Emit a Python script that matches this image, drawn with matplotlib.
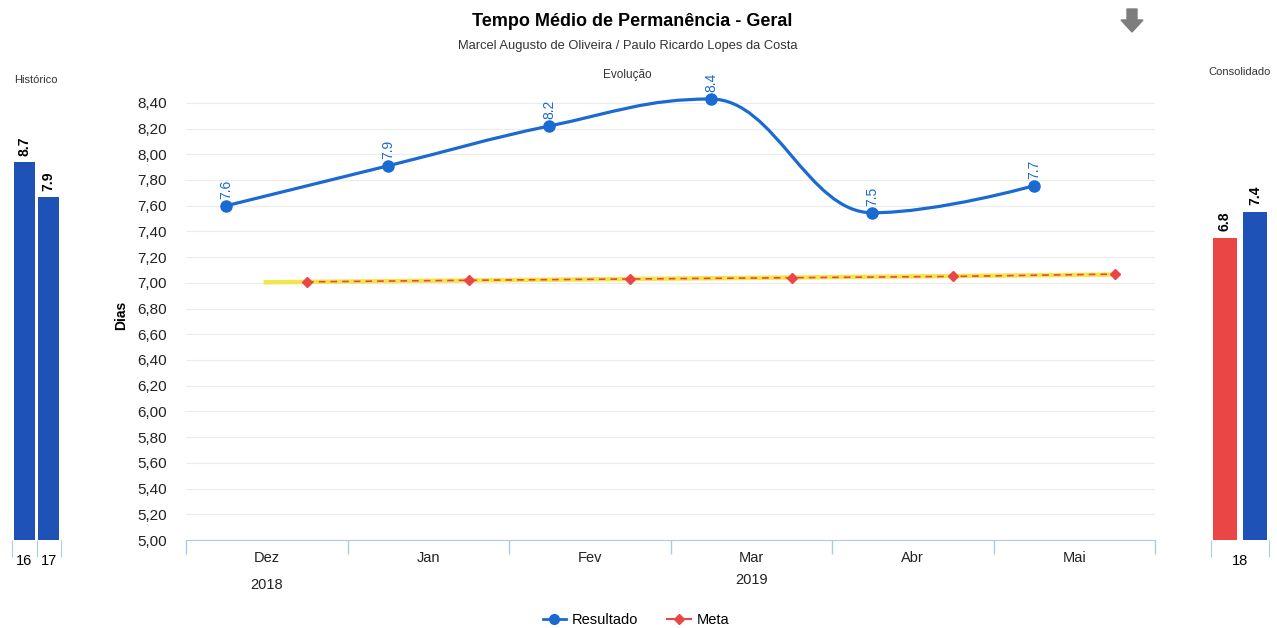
import numpy as np
import matplotlib
matplotlib.use("Agg")
import matplotlib.pyplot as plt
import matplotlib.transforms as mtrans
from matplotlib.path import Path
from matplotlib.patches import PathPatch, Polygon
from matplotlib.lines import Line2D

plt.rcParams['font.family'] = ['Liberation Sans', 'DejaVu Sans']

# Dataset
months = ["Dez", "Jan", "Fev", "Mar", "Abr", "Mai"]
resultado = [7.6, 7.91, 8.22, 8.43, 7.545, 7.755]
resultado_lbl = ["7.6", "7.9", "8.2", "8.4", "7.5", "7.7"]
meta = [7.008, 7.02, 7.03, 7.04, 7.05, 7.068]

hist_years = ["16", "17"]
hist_vals = [8.7, 7.9]

cons_year = "18"
cons_meta = 6.8
cons_res = 7.4

BLUE_LINE = "#1a6ad2"
BLUE_BAR = "#1f52b6"
RED = "#ea4646"
AXIS_C = "#a9cde6"


def spline_path(xs, ys):
    # highcharts-like spline
    sm, den = 1.5, 2.5
    n = len(xs)
    left = [None] * n
    right = [None] * n
    for i in range(n):
        if i == 0 or i == n - 1:
            left[i] = (xs[i], ys[i])
            right[i] = (xs[i], ys[i])
            continue
        x, y = xs[i], ys[i]
        lx, ly, nx, ny = xs[i-1], ys[i-1], xs[i+1], ys[i+1]
        lcx, lcy = (sm*x + lx)/den, (sm*y + ly)/den
        rcx, rcy = (sm*x + nx)/den, (sm*y + ny)/den
        corr = (rcy - lcy) * (rcx - x) / (rcx - lcx) + y - rcy
        lcy += corr
        rcy += corr
        if lcy > ly and lcy > y:
            lcy = max(ly, y); rcy = 2*y - lcy
        elif lcy < ly and lcy < y:
            lcy = min(ly, y); rcy = 2*y - lcy
        if rcy > ny and rcy > y:
            rcy = max(ny, y); lcy = 2*y - rcy
        elif rcy < ny and rcy < y:
            rcy = min(ny, y); lcy = 2*y - rcy
        left[i] = (lcx, lcy)
        right[i] = (rcx, rcy)
    verts = [(xs[0], ys[0])]
    codes = [Path.MOVETO]
    for i in range(1, n):
        verts += [right[i-1], left[i], (xs[i], ys[i])]
        codes += [Path.CURVE4] * 3
    return Path(verts, codes)


fig = plt.figure(figsize=(12.77, 6.28), dpi=100)
W, H = 1277.0, 628.0

# main chart
ax = fig.add_axes([186/W, 1-540/H, (1155-186)/W, (540-90)/H])
x = np.arange(len(months))
xr = x + 0.25
xm = x + 0.75

ax.set_xlim(0, len(months))
ax.set_ylim(5.0, 8.5)
yt = np.arange(5.0, 8.41, 0.2)
ax.set_yticks(yt)
ax.set_yticklabels([("%.2f" % v).replace(".", ",") for v in yt], fontsize=11, color="#222222")
ax.grid(axis="y", color="#ececec", lw=0.8)
ax.set_axisbelow(True)
for s in ["top", "right", "left"]:
    ax.spines[s].set_visible(False)
ax.spines["bottom"].set_color(AXIS_C)
ax.tick_params(axis="y", length=0, pad=14)
ax.set_xticks(np.arange(len(months) + 1))
ax.set_xticklabels([])
ax.tick_params(axis="x", which="major", length=10, color=AXIS_C, width=1)
ax.set_xticks(x + 0.5, minor=True)
ax.set_xticklabels(months, minor=True, fontsize=10.5, color="#222222")
ax.tick_params(axis="x", which="minor", length=0, pad=8)
ax.set_ylabel("Dias", fontsize=10, fontweight="bold", labelpad=6)

# meta: yellow trend + red dashed
fit = np.poly1d(np.polyfit(xm, meta, 1))
xs = np.array([0.48, xm[-1]])
ax.plot(xs, fit(xs), color="#f3e64a", lw=3.2, solid_capstyle="butt", zorder=2)
ax.plot(xm, meta, color=RED, lw=1.2, ls=(0, (4, 3)), marker="D", ms=5, zorder=3)

# resultado spline
ax.add_patch(PathPatch(spline_path(xr, resultado), fill=False, ec=BLUE_LINE, lw=2.3, zorder=4))
ax.plot(xr, resultado, "o", color=BLUE_LINE, ms=8, zorder=5)
for xi, yi, lb in zip(xr, resultado, resultado_lbl):
    ax.annotate(lb, (xi, yi), xytext=(0, 5), textcoords="offset points", rotation=90,
                ha="center", va="bottom", fontsize=10, color=BLUE_LINE)

# years
yr_tr = mtrans.blended_transform_factory(ax.transData, fig.transFigure)
ax.text(0.5, 1-585/H, "2018", transform=yr_tr, ha="center", va="center", fontsize=10.5, color="#222222")
ax.text(3.5, 1-580/H, "2019", transform=yr_tr, ha="center", va="center", fontsize=10.5, color="#222222")

# historico
axh = fig.add_axes([12/W, 1-540/H, 49/W, 447/H])
axh.bar(np.arange(len(hist_vals)), hist_vals, width=0.86, color=BLUE_BAR)
axh.set_xlim(-0.5, 1.5)
axh.set_ylim(0, 10.3)
for i, v in enumerate(hist_vals):
    axh.text(i, v + 0.15, str(v), rotation=90, ha="center", va="bottom", fontsize=10, fontweight="bold")
for s in ["top", "right", "left", "bottom"]:
    axh.spines[s].set_visible(False)
axh.set_yticks([])
axh.set_xticks([-0.5, 0.5, 1.5])
axh.set_xticklabels([])
axh.tick_params(axis="x", which="major", length=12, color=AXIS_C)
axh.set_xticks([0, 1], minor=True)
axh.set_xticklabels(hist_years, minor=True, fontsize=10.5)
axh.tick_params(axis="x", which="minor", length=0, pad=10)

# consolidado
axc = fig.add_axes([1211/W, 1-540/H, 58/W, 447/H])
axc.bar([-0.259], [cons_meta], width=0.41, color=RED)
axc.bar([0.259], [cons_res], width=0.41, color=BLUE_BAR)
axc.set_xlim(-0.5, 0.5)
axc.set_ylim(0, 10.07)
axc.text(-0.259, cons_meta + 0.15, str(cons_meta), rotation=90, ha="center", va="bottom", fontsize=10, fontweight="bold")
axc.text(0.259, cons_res + 0.15, str(cons_res), rotation=90, ha="center", va="bottom", fontsize=10, fontweight="bold")
for s in ["top", "right", "left", "bottom"]:
    axc.spines[s].set_visible(False)
axc.set_yticks([])
axc.set_xticks([-0.5, 0.5])
axc.set_xticklabels([])
axc.tick_params(axis="x", which="major", length=12, color=AXIS_C)
axc.set_xticks([0], minor=True)
axc.set_xticklabels([cons_year], minor=True, fontsize=10.5)
axc.tick_params(axis="x", which="minor", length=0, pad=10)

# texts
fig.text(632/W, 1-22/H, "Tempo Médio de Permanência - Geral", ha="center", va="center",
         fontsize=13, fontweight="bold")
fig.text(628/W, 1-46/H, "Marcel Augusto de Oliveira / Paulo Ricardo Lopes da Costa", ha="center",
         va="center", fontsize=9.3, color="#333333")
fig.text(627/W, 1-75/H, "Evolução", ha="center", va="center", fontsize=8.5, color="#333333")
fig.text(36/W, 1-80/H, "Histórico", ha="center", va="center", fontsize=8, color="#333333")
fig.text(1240/W, 1-72/H, "Consolidado", ha="center", va="center", fontsize=8, color="#333333")

# download arrow icon
arrow = Polygon([(11.27, 6.19), (11.37, 6.19), (11.37, 6.08), (11.43, 6.08),
                 (11.32, 5.96), (11.21, 6.08), (11.27, 6.08)],
                closed=True, color="#7d7d7d", transform=fig.dpi_scale_trans)
fig.add_artist(arrow)

# legend
handles = [Line2D([], [], color=BLUE_LINE, lw=2, marker="o", ms=7),
           Line2D([], [], color=RED, lw=1.5, marker="D", ms=5)]
fig.legend(handles, ["Resultado", "Meta"], loc="center", bbox_to_anchor=(636/W, 1-620/H),
           ncol=2, frameon=False, fontsize=10.5, handlelength=1.6, columnspacing=2.0,
           handletextpad=0.4)

fig.savefig("out.png", dpi=100)
